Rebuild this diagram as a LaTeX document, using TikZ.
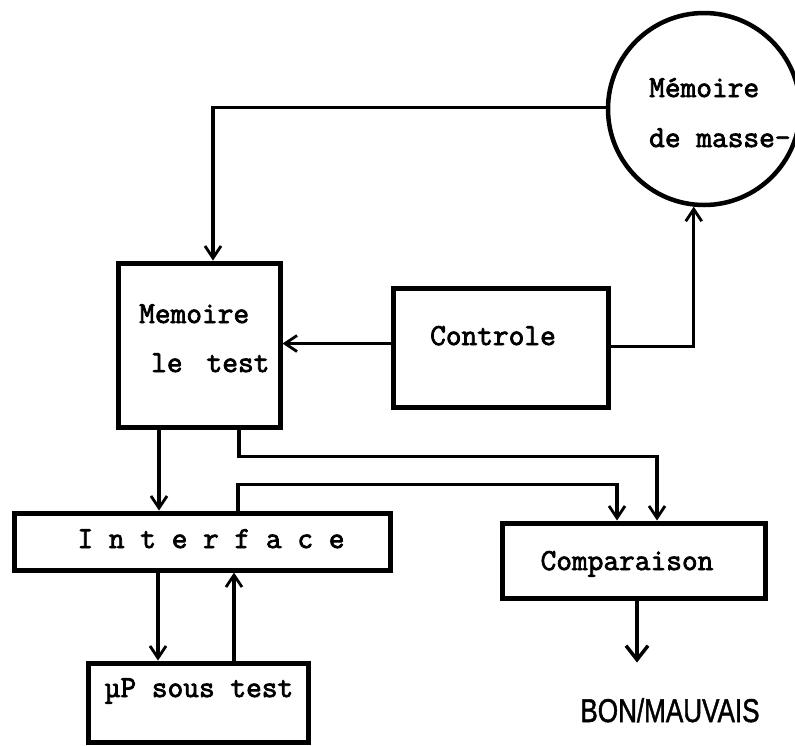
\documentclass[tikz,border=0pt]{standalone}
\usepackage{fontspec}
\setmonofont[FakeBold=2.5]{Latin Modern Mono}
\newfontfamily\sansf[FakeBold=1.5]{Liberation Sans}
\usetikzlibrary{arrows.meta,shapes.geometric}
\tikzset{
  blk/.style={draw,line width=5pt,rectangle,inner sep=0pt},
  conn/.style={line width=3.2pt,-{Straight Barb[length=12pt,width=16pt,line width=2.8pt]}},
  lbl/.style={inner sep=0pt,anchor=base,font=\ttfamily\fontsize{30.5}{32}\selectfont},
}
\begin{document}
\begin{tikzpicture}[x=1pt,y=-1pt]
\useasboundingbox[fill=white] (0,0) rectangle (795,745);
% nodes
\node[draw,line width=4.5pt,circle,minimum size=192pt,inner sep=0pt] (mm) at (704,109) {};
\node[lbl,anchor=base west] (mmt1) at (649,97) {Mémoire};
\node[lbl,anchor=base west] (mmt2) at (649,147) {de masse-};
\node[blk,minimum width=162pt,minimum height=164pt] (mt) at (199,345) {};
\node[lbl,anchor=base west] (mtt1) at (139,323) {Memoire};
\node[lbl,anchor=base west] (mtt2) at (151,372) {le\hspace{24pt}test};
\node[blk,minimum width=215pt,minimum height=119pt] (ct) at (500.5,347.5) {};
\node[lbl] (ctt) at (493,345) {Controle};
\node[blk,minimum width=376pt,minimum height=57pt] (if) at (202,541.5) {};
\node[lbl] (ift) at (211,548) {I n t e r f a c e};
\node[blk,minimum width=263pt,minimum height=75pt] (cp) at (633.5,560.5) {};
\node[lbl] (cpt) at (627,570) {Comparaison};
\node[blk,minimum width=220pt,minimum height=79pt] (up) at (198,702.5) {};
\node[lbl] (upt) at (199,697) {µP sous test};
\node[inner sep=0pt,anchor=base,font=\sansf\fontsize{33}{35}\selectfont] (bm) at (670,722) {\scalebox{0.79}[1]{BON/MAUVAIS}};
% connectors
\draw[conn] (mm.179) -| ([xshift=14pt]mt.north);
\draw[conn] ([yshift=4pt]ct.west) -- ([yshift=4pt]ct.west -| mt.east);
\draw[conn] ([yshift=1pt]ct.east) -| (mm.264);
\draw[conn] ([xshift=-40pt]mt.south) -- ([xshift=-40pt]mt.south |- if.north);
\draw[conn] ([xshift=40pt]mt.south) -- ++(0,27) -| ([xshift=23.5pt]cp.north);
\draw[conn] ([xshift=36pt]if.north) -- ++(0,-26) -| ([xshift=-16.5pt]cp.north);
\draw[conn] ([xshift=-44pt]if.south) -- ([xshift=-44pt]if.south |- up.north);
\draw[conn] ([xshift=36pt]up.north) -- ([xshift=36pt]up.north |- if.south);
\draw[conn,line width=4pt,-{Straight Barb[length=14pt,width=22pt,line width=3.5pt]}] ([xshift=3.5pt]cp.south) -- ++(0,62);
\end{tikzpicture}
\end{document}
